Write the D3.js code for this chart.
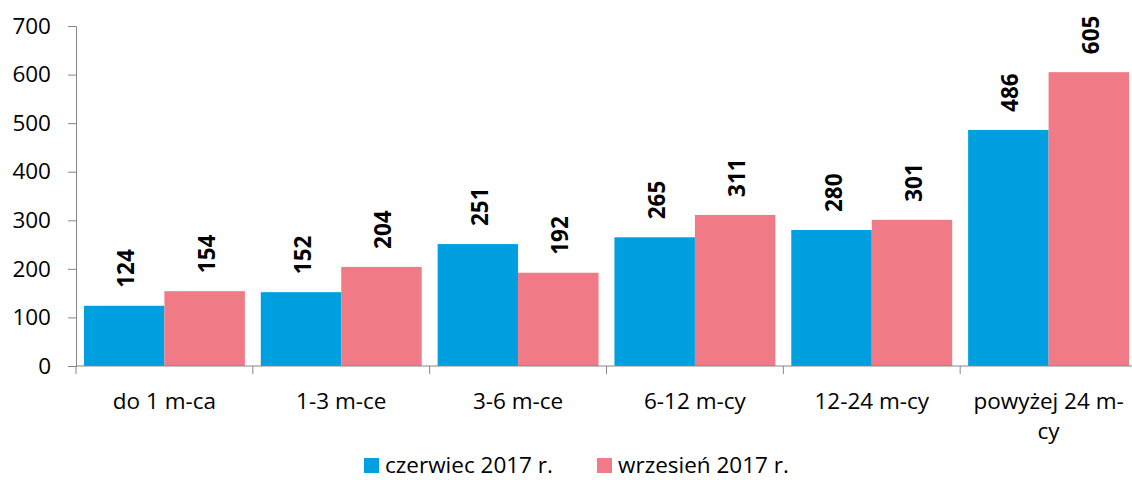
<!DOCTYPE html>
<html>
<head>
<meta charset="utf-8">
<script src="https://cdn.jsdelivr.net/npm/d3@7"></script>
<style>
	body { margin: 0; background: #fff; }
	text { font-family: "Open Sans", Lato, sans-serif; fill: #000; }
</style>
</head>
<body>
<div id="chart"></div>
<script>
var categories = ["do 1 m-ca", "1-3 m-ce", "3-6 m-ce", "6-12 m-cy", "12-24 m-cy", "powyżej 24 m-cy"];
var series = ["czerwiec 2017 r.", "wrzesień 2017 r."];
var june = [124, 152, 251, 265, 280, 486];
var september = [154, 204, 192, 311, 301, 605];
var yTicks = [0, 100, 200, 300, 400, 500, 600, 700];

var width = 1132;
var height = 480;
var fontSize = '22.5px';
var color = d3.scaleOrdinal().domain(series).range(["#009fe0", "#f07a85"]);

var svg = d3.select('#chart')
	.append('svg')
	.attr('width', width)
	.attr('height', height);

var x = d3.scaleBand()
	.domain(categories)
	.range([76, 1137])
	.paddingInner(0.09)
	.paddingOuter(0.045);

var xs = d3.scaleBand()
	.domain(series)
	.range([0, x.bandwidth()]);

var y = d3.scaleLinear()
	.domain([0, 700])
	.range([366, 26]);

// y axis
var yAxis = svg.append('g')
	.attr('transform', 'translate(76,0)')
	.call(d3.axisLeft(y).tickValues(yTicks).tickSize(8).tickPadding(17));
yAxis.selectAll('text').style('font-size', fontSize);
yAxis.selectAll('line, path').attr('stroke', '#868686');

// bars
var groups = svg.selectAll('.grp')
	.data(categories)
	.enter()
	.append('g')
	.attr('class', 'grp')
	.attr('transform', function(d) { return 'translate(' + x(d) + ',0)'; });

var rows = function(d, i) {
	return [{s: series[0], v: june[i]}, {s: series[1], v: september[i]}];
};

groups.selectAll('rect')
	.data(rows)
	.enter()
	.append('rect')
	.attr('x', function(d) { return xs(d.s); })
	.attr('y', function(d) { return y(d.v); })
	.attr('width', xs.bandwidth())
	.attr('height', function(d) { return y(0) - y(d.v); })
	.attr('fill', function(d) { return color(d.s); });

groups.selectAll('.val')
	.data(rows)
	.enter()
	.append('text')
	.attr('class', 'val')
	.attr('transform', function(d) {
		return 'translate(' + (xs(d.s) + xs.bandwidth() / 2 + 10) + ',' + (y(d.v) - 18) + ') rotate(-90)';
	})
	.style('font-size', fontSize)
	.style('font-weight', 'bold')
	.text(function(d) { return d.v; });

// x axis
var xAxis = svg.append('g')
	.attr('transform', 'translate(0,366)');
xAxis.append('line')
	.attr('x1', 76).attr('x2', 1132)
	.attr('stroke', '#868686');
var bounds = categories.map(function(d) { return x(d) - x.step() * x.paddingInner() / 2; });
bounds.push(bounds[bounds.length - 1] + x.step());
xAxis.selectAll('.tk')
	.data(bounds)
	.enter()
	.append('line')
	.attr('x1', function(d) { return d; })
	.attr('x2', function(d) { return d; })
	.attr('y1', 0).attr('y2', 8)
	.attr('stroke', '#868686');

var labelLines = {"powyżej 24 m-cy": ["powyżej 24 m-", "cy"]};
xAxis.selectAll('.cat')
	.data(categories)
	.enter()
	.append('text')
	.attr('class', 'cat')
	.attr('text-anchor', 'middle')
	.style('font-size', fontSize)
	.each(function(d) {
		var lines = labelLines[d] || [d];
		var t = d3.select(this);
		lines.forEach(function(l, j) {
			t.append('tspan')
				.attr('x', x(d) + x.bandwidth() / 2)
				.attr('y', 43 + j * 30)
				.text(l);
		});
	});

// legend
var legendX = [364, 597];
var legend = svg.selectAll('.legend')
	.data(series)
	.enter()
	.append('g')
	.attr('class', 'legend')
	.attr('transform', function(d, i) { return 'translate(' + legendX[i] + ',458)'; });

legend.append('rect')
	.attr('width', 15)
	.attr('height', 15)
	.style('fill', color);

legend.append('text')
	.attr('x', 21)
	.attr('y', 15)
	.style('font-size', fontSize)
	.text(function(d) { return d; });
</script>
</body>
</html>
